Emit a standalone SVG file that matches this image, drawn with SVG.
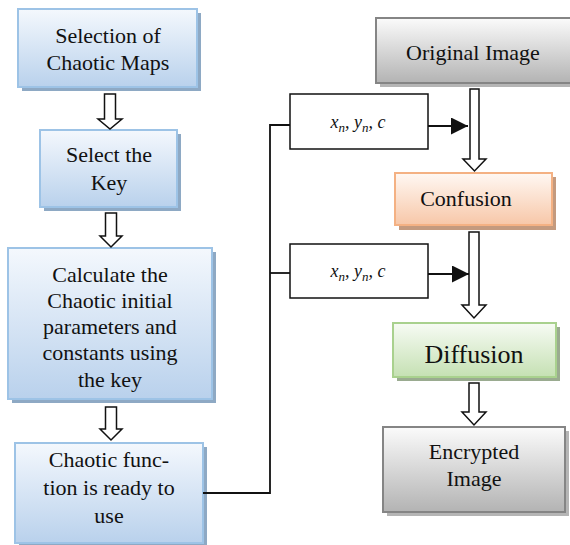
<svg xmlns="http://www.w3.org/2000/svg" width="570" height="545" viewBox="0 0 570 545">
<defs>
<linearGradient id="gBlue" x1="0" y1="0" x2="0" y2="1"><stop offset="0" stop-color="#f4f8fd"/><stop offset="1" stop-color="#b9d1ec"/></linearGradient>
<linearGradient id="gGray" x1="0" y1="0" x2="0" y2="1"><stop offset="0" stop-color="#fbfbfb"/><stop offset="1" stop-color="#b3b3b3"/></linearGradient>
<linearGradient id="gOrange" x1="0" y1="0" x2="0" y2="1"><stop offset="0" stop-color="#fff8f3"/><stop offset="1" stop-color="#f7c7a8"/></linearGradient>
<linearGradient id="gGreen" x1="0" y1="0" x2="0" y2="1"><stop offset="0" stop-color="#f7fbf4"/><stop offset="1" stop-color="#c5e0b3"/></linearGradient>
<marker id="tri" viewBox="0 0 10 10" refX="10" refY="5" markerWidth="17" markerHeight="17" markerUnits="userSpaceOnUse" orient="auto"><path d="M0,0 L10,5 L0,10 z" fill="#111"/></marker>
</defs>
<style>
text{fill:#111;text-anchor:middle}
.t{font-size:22px}
.d{font-size:26px}
.v{font-size:18px;font-style:italic}
.blue{fill:url(#gBlue);stroke:#9dc3e6;stroke-width:2}
.bsh{fill:#8ea9c4}
.gray{fill:url(#gGray);stroke:#858585;stroke-width:2}
.gsh{fill:#b5b5b5}
.orange{fill:url(#gOrange);stroke:#f4b183;stroke-width:2}
.osh{fill:#c49a7e}
.green{fill:url(#gGreen);stroke:#a9d18e;stroke-width:2}
.grsh{fill:#9aab90}
.plain{fill:#fff;stroke:#111;stroke-width:1.5}
.blk{fill:#fff;stroke:#111;stroke-width:1.5;stroke-linejoin:miter}
.ln{fill:none;stroke:#111;stroke-width:1.8}
</style>
<g font-family="'Liberation Serif', 'Times New Roman', 'DejaVu Serif', serif">
<g id="n-selection">
<rect class="bsh" x="22" y="13" width="179" height="78"/>
<rect class="blue" x="18" y="9" width="179" height="78"/>
<text class="t" x="108" y="43">Selection of</text>
<text class="t" x="108" y="70">Chaotic Maps</text>
</g>
<g id="n-key">
<rect class="bsh" x="44" y="134" width="137" height="77"/>
<rect class="blue" x="40" y="130" width="137" height="77"/>
<text class="t" x="109" y="162">Select the</text>
<text class="t" x="109" y="190">Key</text>
</g>
<g id="n-calc">
<rect class="bsh" x="12" y="252" width="204" height="151"/>
<rect class="blue" x="8" y="248" width="204" height="151"/>
<text class="t" x="110" y="282">Calculate the</text>
<text class="t" x="110" y="308">Chaotic initial</text>
<text class="t" x="110" y="334">parameters and</text>
<text class="t" x="110" y="360">constants using</text>
<text class="t" x="110" y="387">the key</text>
</g>
<g id="n-ready">
<rect class="bsh" x="19" y="447" width="188" height="100"/>
<rect class="blue" x="15" y="443" width="188" height="100"/>
<text class="t" x="109" y="467">Chaotic func-</text>
<text class="t" x="109" y="495">tion is ready to</text>
<text class="t" x="109" y="523">use</text>
</g>
<g id="n-xyc1">
<rect class="plain" x="290" y="94" width="138" height="55"/>
<text class="v" x="358" y="128">x<tspan font-size="13" dy="4">n</tspan><tspan dy="-4">, y</tspan><tspan font-size="13" dy="4">n</tspan><tspan dy="-4">, c</tspan></text>
</g>
<g id="n-xyc2">
<rect class="plain" x="290" y="244" width="138" height="54"/>
<text class="v" x="358" y="277">x<tspan font-size="13" dy="4">n</tspan><tspan dy="-4">, y</tspan><tspan font-size="13" dy="4">n</tspan><tspan dy="-4">, c</tspan></text>
</g>
<g id="n-original">
<rect class="gsh" x="380" y="22" width="200" height="65"/>
<rect class="gray" x="376" y="18" width="200" height="65"/>
<text class="t" x="473" y="60">Original Image</text>
</g>
<g id="n-confusion">
<rect class="osh" x="399" y="177" width="157" height="53"/>
<rect class="orange" x="395" y="173" width="157" height="52"/>
<text class="t" x="466" y="206">Confusion</text>
</g>
<g id="n-diffusion">
<rect class="grsh" x="397" y="327" width="163" height="54"/>
<rect class="green" x="393" y="323" width="163" height="54"/>
<text class="d" x="474" y="363">Diffusion</text>
</g>
<g id="n-encrypted">
<rect class="gsh" x="387" y="431" width="182" height="85"/>
<rect class="gray" x="383" y="427" width="182" height="85"/>
<text class="t" x="474" y="459">Encrypted</text>
<text class="t" x="474" y="486">Image</text>
</g>
</g>
<g id="connectors">
<path class="blk" d="M104.5,94 L115.5,94 L115.5,119 L122,119 L110,129 L98,119 L104.5,119 Z"/>
<path class="blk" d="M105.5,213 L116.5,213 L116.5,236 L122,236 L111,247 L100,236 L105.5,236 Z"/>
<path class="blk" d="M105.5,407 L116.5,407 L116.5,429 L122,429 L111,440 L100,429 L105.5,429 Z"/>
<path class="blk" d="M470,89 L479,89 L479,159 L486,159 L474.5,171 L463,159 L470,159 Z"/>
<path class="blk" d="M469,232 L479,232 L479,305 L486,305 L474,318 L462,305 L469,305 Z"/>
<path class="blk" d="M469,383 L479,383 L479,412 L486,412 L474,425 L462,412 L469,412 Z"/>
<path class="ln" d="M203,493 L270,493 L270,125 L290,125"/>
<path class="ln" d="M270,273 L290,273"/>
<path class="ln" d="M428,126 L468,126" marker-end="url(#tri)"/>
<path class="ln" d="M428,274 L469,274" marker-end="url(#tri)"/>
</g>
</svg>
